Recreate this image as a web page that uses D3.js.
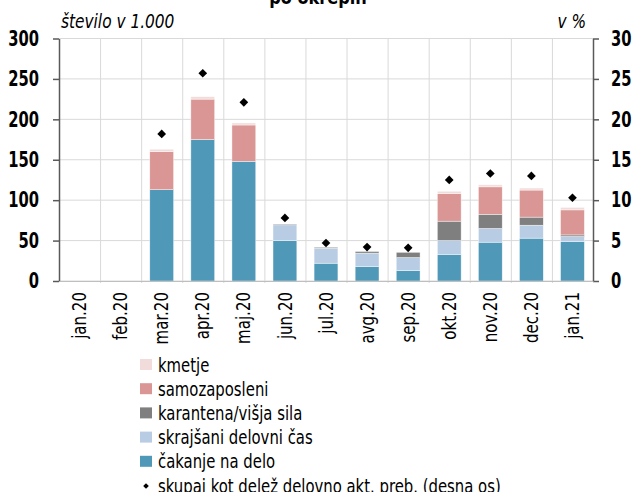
<!DOCTYPE html>
<meta charset="utf-8">
<style>
body { margin: 0; background: #fff; }
text { font-family: "DejaVu Sans Condensed", "DejaVu Sans", sans-serif; fill: #000; }
.grid line { stroke: #d9d9d9; stroke-width: 1; }
</style>
<body>
<script src="https://cdn.jsdelivr.net/npm/d3@7"></script>
<script>
// data
var months = ["jan.20", "feb.20", "mar.20", "apr.20", "maj.20", "jun.20", "jul.20",
              "avg.20", "sep.20", "okt.20", "nov.20", "dec.20", "jan.21"];
var cakanje      = [0, 0, 113, 175, 148, 50, 22, 18, 13, 33, 48, 53, 49];
var skrajsani    = [0, 0, 0, 0, 0, 19.5, 18.5, 16.5, 16, 17, 17, 16, 6];
var karantena    = [0, 0, 0, 0, 0, 1, 1.2, 2, 6.5, 24, 17.5, 10, 2];
var samozaposleni= [0, 0, 47, 50, 45, 0, 0, 0, 0, 34, 34, 33.5, 31];
var kmetje       = [0, 0, 3, 3, 2.5, 0, 0, 0, 0, 3, 2.5, 2.5, 3];
var delez        = [null, null, 18.2, 25.7, 22.1, 7.8, 4.7, 4.2, 4.1, 12.5, 13.3, 13.0, 10.3];

var keys = ["cakanje", "skrajsani", "karantena", "samozaposleni", "kmetje"];
var names = {cakanje: "čakanje na delo", skrajsani: "skrajšani delovni čas",
             karantena: "karantena/višja sila", samozaposleni: "samozaposleni", kmetje: "kmetje"};
var colors = {cakanje: "#4f98b8", skrajsani: "#b8cce4", karantena: "#7f7f7f",
              samozaposleni: "#da9694", kmetje: "#f2dcdb"};

var table = months.map(function(m, i) {
  return {month: m, cakanje: cakanje[i], skrajsani: skrajsani[i], karantena: karantena[i],
          samozaposleni: samozaposleni[i], kmetje: kmetje[i], delez: delez[i]};
});

var W = 635, H = 492;
var margin = {top: 38.5, right: 42, bottom: 211, left: 59};
var width = W - margin.left - margin.right,
    height = H - margin.top - margin.bottom;

// squeeze a text horizontally (the original font is a narrow one)
function squeeze(sel, sx) {
  sel.each(function() {
    var t = d3.select(this);
    var tx = +t.attr("x") || 0, ty = +t.attr("y") || 0;
    var pre = t.attr("data-pre") || "";
    t.attr("x", 0).attr("y", 0)
     .attr("transform", pre + "translate(" + tx + "," + ty + ") scale(" + sx + ",1)");
  });
}

var svg = d3.select("body").append("svg").attr("width", W).attr("height", H);

// title, cut off at the top
var title = svg.append("text").attr("x", 318).attr("y", 4).attr("text-anchor", "middle")
  .style("font-family", "'DejaVu Sans', sans-serif").style("font-weight", "bold")
  .style("font-size", "19px").text("po okrepih");
squeeze(title, 0.85);

var g = svg.append("g").attr("transform", "translate(" + margin.left + "," + margin.top + ")");

var x = d3.scaleBand().domain(months).range([0, width]).paddingInner(0.42).paddingOuter(0.21);
var y = d3.scaleLinear().domain([0, 300]).range([height, 0]);
var y2 = d3.scaleLinear().domain([0, 30]).range([height, 0]);

// grid
var grid = g.append("g").attr("class", "grid");
grid.selectAll(".h").data(y.ticks(6)).enter().append("line")
  .attr("x1", 0).attr("x2", width).attr("y1", d => y(d)).attr("y2", d => y(d));
grid.selectAll(".v").data(months.slice(1)).enter().append("line")
  .attr("x1", d => x(d) - x.step() * x.paddingInner() / 2 + 0.5)
  .attr("x2", d => x(d) - x.step() * x.paddingInner() / 2 + 0.5)
  .attr("y1", 0).attr("y2", height + 2);

// stacked bars
var stack = d3.stack().keys(keys)(table);
g.selectAll(".layer").data(stack).enter().append("g")
  .attr("fill", d => colors[d.key])
  .selectAll("rect").data(d => d).enter().append("rect")
  .attr("x", d => x(d.data.month))
  .attr("width", x.bandwidth())
  .attr("y", d => y(d[1]))
  .attr("height", d => y(d[0]) - y(d[1]))
  .attr("stroke", "#fff").attr("stroke-width", 0.6).attr("stroke-opacity", 0.7);

// share as diamonds (right axis)
var diamond = d3.symbol(d3.symbolSquare, 38);
g.selectAll(".dot").data(table.filter(d => d.delez != null)).enter().append("path")
  .attr("d", diamond)
  .attr("transform", d => "translate(" + (x(d.month) + x.bandwidth() / 2) + "," + y2(d.delez) + ") rotate(45)")
  .attr("fill", "#000");

// axes
var yAxis = g.append("g").call(d3.axisLeft(y).ticks(6).tickSize(6).tickSizeOuter(0).tickPadding(14));
var y2Axis = g.append("g").attr("transform", "translate(" + width + ",0)")
  .call(d3.axisRight(y2).ticks(6).tickSize(6).tickSizeOuter(0).tickPadding(12));
[yAxis, y2Axis].forEach(function(a) {
  a.select(".domain").attr("stroke", "#595959").attr("stroke-width", 1.5);
  a.selectAll(".tick line").attr("stroke", "#595959").attr("stroke-width", 1.5);
  a.selectAll("text").style("font-size", "21px").style("font-weight", "bold")
    .style("font-family", "'DejaVu Sans Condensed', sans-serif");
  squeeze(a.selectAll("text"), 0.78);
});

var xAxis = g.append("g").attr("transform", "translate(0," + height + ")")
  .call(d3.axisBottom(x).tickSize(0).tickPadding(0));
xAxis.select(".domain").attr("stroke", "#bfbfbf");
xAxis.selectAll("text")
  .attr("x", -11).attr("y", 0).attr("dy", "0.35em").attr("data-pre", "rotate(-90) ")
  .style("text-anchor", "end").style("font-size", "19px");
squeeze(xAxis.selectAll("text"), 0.88);

// axis unit labels
var u1 = svg.append("text").attr("x", 61).attr("y", 28).style("font-style", "italic")
  .style("font-size", "19px").text("število v 1.000");
var u2 = svg.append("text").attr("x", 586).attr("y", 28).attr("text-anchor", "end")
  .style("font-style", "italic").style("font-size", "19px").text("v %");
squeeze(u1, 0.9); squeeze(u2, 0.9);

// legend
var legendKeys = ["kmetje", "samozaposleni", "karantena", "skrajsani", "cakanje"];
var leg = svg.append("g").attr("transform", "translate(140,358)");
legendKeys.forEach(function(k, i) {
  var row = leg.append("g").attr("transform", "translate(0," + (i * 24.2) + ")");
  row.append("rect").attr("width", 12).attr("height", 11).attr("y", 1).attr("fill", colors[k]);
  var t = row.append("text").attr("x", 18).attr("y", 7).attr("dy", "0.35em")
    .style("font-size", "19px").text(names[k]);
  squeeze(t, 0.87);
});
var last = leg.append("g").attr("transform", "translate(0," + (5 * 24.2) + ")");
last.append("path").attr("d", d3.symbol(d3.symbolSquare, 16)).attr("transform", "translate(6,7) rotate(45)");
var lt = last.append("text").attr("x", 18).attr("y", 7).attr("dy", "0.35em")
  .style("font-size", "19px").text("skupaj kot delež delovno akt. preb. (desna os)");
squeeze(lt, 0.87);
</script>
</body>
